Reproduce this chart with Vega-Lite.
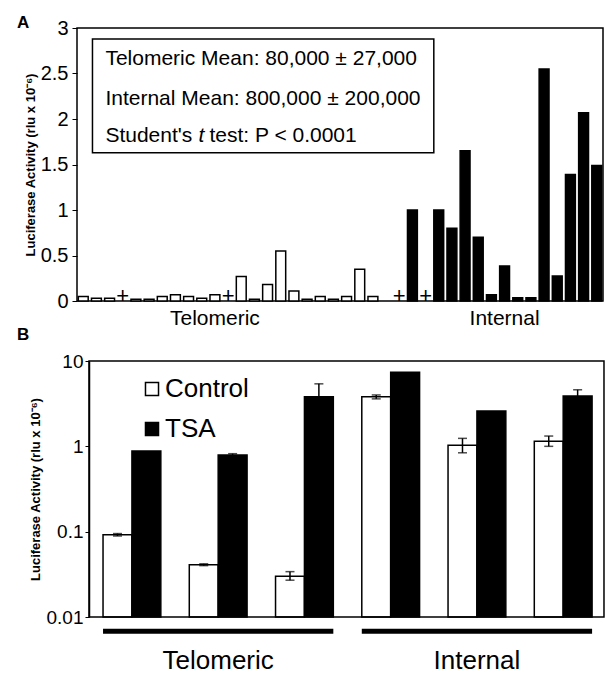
{
  "$schema": "https://vega.github.io/schema/vega-lite/v6.json",
  "background": "white",
  "padding": {"left": 16, "top": 13, "right": 0, "bottom": 0},
  "autosize": {"type": "pad"},
  "config": {
    "font": "Liberation Sans",
    "view": {"stroke": "black", "strokeWidth": 1.5},
    "axis": {"domainColor": "black", "tickColor": "black", "labelColor": "black", "titleColor": "black", "grid": false}
  },
  "resolve": {"scale": {"x": "independent", "y": "independent", "color": "independent", "xOffset": "independent"}},
  "columns": 1,
  "align": "none",
  "spacing": -3,
  "concat": [
    {
      "width": 526,
      "height": 273,
      "title": {"text": "A", "anchor": "start", "frame": "group", "dx": -60, "offset": -14, "fontSize": 17, "fontWeight": "bold", "color": "black"},
      "layer": [
        {
          "data": {"values": [
            {"slot": 0, "region": "Telomeric", "value": 0.05},
            {"slot": 1, "region": "Telomeric", "value": 0.03},
            {"slot": 2, "region": "Telomeric", "value": 0.03},
            {"slot": 4, "region": "Telomeric", "value": 0.02},
            {"slot": 5, "region": "Telomeric", "value": 0.02},
            {"slot": 6, "region": "Telomeric", "value": 0.05},
            {"slot": 7, "region": "Telomeric", "value": 0.07},
            {"slot": 8, "region": "Telomeric", "value": 0.05},
            {"slot": 9, "region": "Telomeric", "value": 0.03},
            {"slot": 10, "region": "Telomeric", "value": 0.07},
            {"slot": 12, "region": "Telomeric", "value": 0.27},
            {"slot": 13, "region": "Telomeric", "value": 0.02},
            {"slot": 14, "region": "Telomeric", "value": 0.18},
            {"slot": 15, "region": "Telomeric", "value": 0.55},
            {"slot": 16, "region": "Telomeric", "value": 0.11},
            {"slot": 17, "region": "Telomeric", "value": 0.02},
            {"slot": 18, "region": "Telomeric", "value": 0.05},
            {"slot": 19, "region": "Telomeric", "value": 0.02},
            {"slot": 20, "region": "Telomeric", "value": 0.05},
            {"slot": 21, "region": "Telomeric", "value": 0.35},
            {"slot": 22, "region": "Telomeric", "value": 0.05},
            {"slot": 25, "region": "Internal", "value": 1.0},
            {"slot": 27, "region": "Internal", "value": 1.0},
            {"slot": 28, "region": "Internal", "value": 0.8},
            {"slot": 29, "region": "Internal", "value": 1.65},
            {"slot": 30, "region": "Internal", "value": 0.7},
            {"slot": 31, "region": "Internal", "value": 0.07},
            {"slot": 32, "region": "Internal", "value": 0.385},
            {"slot": 33, "region": "Internal", "value": 0.035},
            {"slot": 34, "region": "Internal", "value": 0.035},
            {"slot": 35, "region": "Internal", "value": 2.55},
            {"slot": 36, "region": "Internal", "value": 0.275},
            {"slot": 37, "region": "Internal", "value": 1.39},
            {"slot": 38, "region": "Internal", "value": 2.07},
            {"slot": 39, "region": "Internal", "value": 1.49}
          ]},
          "mark": {"type": "bar", "stroke": "black", "strokeWidth": 1.5},
          "encoding": {
            "x": {
              "field": "slot", "type": "ordinal",
              "scale": {"domain": [0,1,2,3,4,5,6,7,8,9,10,11,12,13,14,15,16,17,18,19,20,21,22,23,24,25,26,27,28,29,30,31,32,33,34,35,36,37,38,39], "paddingInner": 0.25, "paddingOuter": 0.1},
              "axis": {"title": null, "ticks": false, "domain": false, "labelAngle": 0, "labelFontSize": 21, "labelPadding": 6, "labelOverlap": false, "labelBound": false, "labelExpr": "datum.value == 10 ? 'Telomeric' : datum.value == 32 ? 'Internal' : ''"}
            },
            "y": {
              "field": "value", "type": "quantitative",
              "scale": {"domain": [0, 3]},
              "axis": {"title": "Luciferase Activity (rlu x 10⁻⁶)", "titleFontSize": 13, "titleFontWeight": "bold", "titlePadding": 3, "labelFontSize": 20, "tickSize": 5, "labelPadding": 4, "values": [0, 0.5, 1, 1.5, 2, 2.5, 3], "format": "~g", "domain": false}
            },
            "color": {"field": "region", "type": "nominal", "scale": {"domain": ["Telomeric", "Internal"], "range": ["white", "black"]}, "legend": null}
          }
        },
        {
          "data": {"values": [{"slot": 3}, {"slot": 11}, {"slot": 24}, {"slot": 26}]},
          "mark": {"type": "text", "text": "+", "fontSize": 22, "baseline": "alphabetic", "dy": 2, "color": "black"},
          "encoding": {"x": {"field": "slot", "type": "ordinal"}, "y": {"datum": 0, "type": "quantitative"}}
        },
        {
          "data": {"values": [{"box": "stats"}]},
          "mark": {"type": "rect", "fill": "white", "stroke": "black", "strokeWidth": 1.5},
          "encoding": {"x": {"datum": 1, "type": "ordinal", "bandPosition": 0.1}, "x2": {"datum": 27, "bandPosition": 0}, "y": {"datum": 2.88, "type": "quantitative"}, "y2": {"datum": 1.63}}
        },
        {
          "data": {"values": [{"line": "Telomeric Mean: 80,000 ± 27,000"}]},
          "mark": {"type": "text", "align": "left", "baseline": "middle", "fontSize": 21, "dx": 9, "color": "black"},
          "encoding": {"x": {"datum": 1, "type": "ordinal"}, "y": {"datum": 2.66, "type": "quantitative"}, "text": {"field": "line"}}
        },
        {
          "data": {"values": [{"line": "Internal Mean: 800,000 ± 200,000"}]},
          "mark": {"type": "text", "align": "left", "baseline": "middle", "fontSize": 21, "dx": 9, "color": "black"},
          "encoding": {"x": {"datum": 1, "type": "ordinal"}, "y": {"datum": 2.22, "type": "quantitative"}, "text": {"field": "line"}}
        },
        {
          "data": {"values": [{"line": "Student's"}]},
          "mark": {"type": "text", "align": "left", "baseline": "middle", "fontSize": 21, "dx": 9, "color": "black"},
          "encoding": {"x": {"datum": 1, "type": "ordinal"}, "y": {"datum": 1.81, "type": "quantitative"}, "text": {"field": "line"}}
        },
        {
          "data": {"values": [{"line": "t"}]},
          "mark": {"type": "text", "align": "left", "baseline": "middle", "fontSize": 21, "fontStyle": "italic", "dx": 102, "color": "black"},
          "encoding": {"x": {"datum": 1, "type": "ordinal"}, "y": {"datum": 1.81, "type": "quantitative"}, "text": {"field": "line"}}
        },
        {
          "data": {"values": [{"line": "test: P < 0.0001"}]},
          "mark": {"type": "text", "align": "left", "baseline": "middle", "fontSize": 21, "dx": 113, "color": "black"},
          "encoding": {"x": {"datum": 1, "type": "ordinal"}, "y": {"datum": 1.81, "type": "quantitative"}, "text": {"field": "line"}}
        }
      ]
    },
    {
      "width": 527,
      "height": 256,
      "view": {"stroke": null},
      "title": {"text": "B", "anchor": "start", "frame": "group", "dx": -60, "offset": 8, "fontSize": 17, "fontWeight": "bold", "color": "black"},
      "layer": [
        {
          "data": {"values": [
            {"group": "G1", "treatment": "Control", "value": 0.092, "lo": 0.089, "hi": 0.095},
            {"group": "G1", "treatment": "TSA", "value": 0.88, "lo": null, "hi": null},
            {"group": "G2", "treatment": "Control", "value": 0.041, "lo": 0.040, "hi": 0.042},
            {"group": "G2", "treatment": "TSA", "value": 0.79, "lo": 0.77, "hi": 0.82},
            {"group": "G3", "treatment": "Control", "value": 0.030, "lo": 0.027, "hi": 0.034},
            {"group": "G3", "treatment": "TSA", "value": 3.8, "lo": 2.6, "hi": 5.4},
            {"group": "G4", "treatment": "Control", "value": 3.8, "lo": 3.6, "hi": 4.0},
            {"group": "G4", "treatment": "TSA", "value": 7.4, "lo": null, "hi": null},
            {"group": "G5", "treatment": "Control", "value": 1.03, "lo": 0.84, "hi": 1.24},
            {"group": "G5", "treatment": "TSA", "value": 2.6, "lo": null, "hi": null},
            {"group": "G6", "treatment": "Control", "value": 1.15, "lo": 1.0, "hi": 1.32},
            {"group": "G6", "treatment": "TSA", "value": 3.9, "lo": 3.3, "hi": 4.6}
          ]},
          "layer": [
            {
              "mark": {"type": "bar", "stroke": "black", "strokeWidth": 1.5},
              "encoding": {
                "x": {
                  "field": "group", "type": "nominal",
                  "scale": {"paddingInner": 0.33, "paddingOuter": 0.22, "align": 0.686},
                  "axis": {"title": null, "ticks": false, "domain": false, "labelAngle": 0, "labelFontSize": 26, "labelPadding": 30, "labelOverlap": false, "labelBound": false, "labelExpr": "datum.value == 'G2' ? 'Telomeric' : datum.value == 'G5' ? 'Internal' : ''"}
                },
                "xOffset": {"field": "treatment", "type": "nominal", "scale": {"paddingInner": 0, "paddingOuter": 0}},
                "y": {
                  "field": "value", "type": "quantitative",
                  "scale": {"type": "log", "domain": [0.01, 10]},
                  "axis": {"title": "Luciferase Activity (rlu x 10⁻⁶)", "titleFontSize": 13, "titleFontWeight": "bold", "titlePadding": 4, "labelFontSize": 19, "tickSize": 4, "labelPadding": 2, "values": [0.01, 0.1, 1, 10], "format": "~g", "domain": true, "domainWidth": 1.5, "offset": -12}
                },
                "y2": {"datum": 0.01},
                "color": {
                  "field": "treatment", "type": "nominal",
                  "scale": {"domain": ["Control", "TSA"], "range": ["white", "black"]},
                  "legend": {"title": null, "orient": "none", "legendX": 62, "legendY": 15, "labelFontSize": 26, "labelColor": "black", "symbolType": "square", "symbolSize": 170, "symbolStrokeColor": "black", "symbolStrokeWidth": 1.5, "rowPadding": 14, "labelOffset": 0, "padding": 0}
                }
              }
            },
            {
              "transform": [{"filter": "isValid(datum.lo)"}],
              "mark": {"type": "rule", "color": "black", "strokeWidth": 1.5},
              "encoding": {
                "x": {"field": "group", "type": "nominal"},
                "xOffset": {"field": "treatment", "type": "nominal"},
                "y": {"field": "lo", "type": "quantitative"},
                "y2": {"field": "hi"}
              }
            },
            {
              "transform": [{"filter": "isValid(datum.lo)"}],
              "mark": {"type": "tick", "color": "black", "thickness": 1.5, "size": 9},
              "encoding": {
                "x": {"field": "group", "type": "nominal"},
                "xOffset": {"field": "treatment", "type": "nominal"},
                "y": {"field": "lo", "type": "quantitative"}
              }
            },
            {
              "transform": [{"filter": "isValid(datum.hi)"}],
              "mark": {"type": "tick", "color": "black", "thickness": 1.5, "size": 9},
              "encoding": {
                "x": {"field": "group", "type": "nominal"},
                "xOffset": {"field": "treatment", "type": "nominal"},
                "y": {"field": "hi", "type": "quantitative"}
              }
            }
          ]
        },
        {
          "data": {"values": [{"from": "G1", "to": "G6"}]},
          "mark": {"type": "rect", "fill": null, "stroke": "black", "strokeWidth": 1.5},
          "encoding": {
            "x": {"field": "from", "type": "nominal", "bandPosition": -0.243},
            "x2": {"field": "to", "bandPosition": 1.206},
            "y": {"datum": 10, "type": "quantitative"},
            "y2": {"datum": 0.01}
          }
        },
        {
          "data": {"values": [{"start": "G1", "end": "G3"}, {"start": "G4", "end": "G6"}]},
          "mark": {"type": "rule", "color": "black", "strokeWidth": 5},
          "encoding": {
            "x": {"field": "start", "type": "nominal", "bandPosition": 0},
            "x2": {"field": "end", "bandPosition": 1},
            "y": {"datum": 0.0068, "type": "quantitative"}
          }
        }
      ]
    }
  ]
}
